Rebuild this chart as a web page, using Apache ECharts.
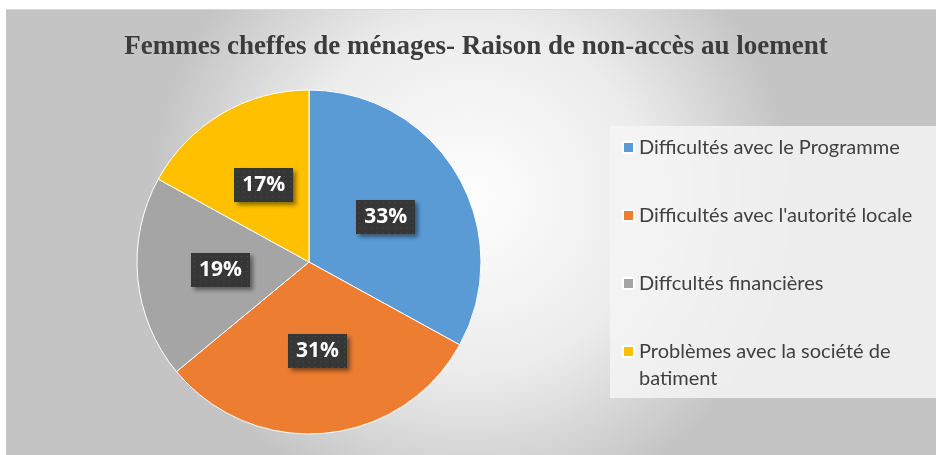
<!DOCTYPE html>
<html>
<head>
	<meta charset="utf-8" />
	<title>Femmes cheffes de ménages</title>
	<script type="text/javascript" src="https://cdn.jsdelivr.net/npm/echarts@6/dist/echarts.min.js"></script>
	<style type="text/css">
		html, body{
			margin: 0;
			padding: 0;
			background: #ffffff;
		}
		#container{
			position: absolute;
			left: 6px;
			top: 9px;
			width: 930px;
			height: 446px;
			border-top: 1px solid #d8d8d8;
		}
	</style>
</head>
<body>
<div id="container"></div>
<script type="text/javascript">
	// données
	var categories = [
		'Difficultés avec le Programme',
		"Difficultés avec l'autorité locale",
		'Diffcultés financières',
		'Problèmes avec la société de batiment'
	];
	var values = [33, 31, 19, 17];
	var colors = ['#5b9bd5', '#ed7d31', '#a5a5a5', '#ffc000'];

	// fond sombre pointillé des étiquettes
	function dotted(w, h){
		var c = document.createElement('canvas');
		c.width = w; c.height = h;
		var g = c.getContext('2d');
		g.fillStyle = '#363636';
		g.fillRect(0, 0, w, h);
		g.fillStyle = '#555555';
		for(var y = 3; y < h; y += 6){
			for(var x = 3; x < w; x += 6){
				g.fillRect(x, y, 1, 1);
			}
		}
		return c;
	}

	var chart = echarts.init(document.getElementById('container'));

	var pieData = categories.map(function(name, i){
		return {name: name, value: values[i], itemStyle: {color: colors[i]}};
	});

	var legendText = {
		fontFamily: 'Lato',
		fontSize: 20,
		lineHeight: 27,
		color: '#404040'
	};

	var options = {
		backgroundColor: {
			type: 'radial', x: 0.5, y: 0.42, r: 0.72,
			colorStops: [
				{offset: 0, color: '#fefefe'},
				{offset: 0.55, color: '#ececec'},
				{offset: 1, color: '#c4c4c4'}
			]
		},
		title: {
			text: 'Femmes cheffes de ménages- Raison de non-accès au loement',
			left: 465,
			textAlign: 'center',
			top: 19,
			textStyle: {
				fontFamily: 'Liberation Serif',
				fontWeight: 'bold',
				fontSize: 27,
				color: '#3c3c3c'
			}
		},
		graphic: [{
			type: 'rect',
			left: 604,
			top: 116,
			shape: {width: 326, height: 272},
			style: {fill: 'rgba(244,244,244,0.85)'},
			z: -1
		}],
		// deux légendes : la dernière entrée est sur deux lignes, carré aligné sur la première
		legend: [{
			orient: 'vertical',
			left: 611,
			top: 119,
			itemWidth: 11,
			itemHeight: 11,
			itemGap: 41,
			icon: 'rect',
			data: categories.slice(0, 3),
			textStyle: legendText
		}, {
			orient: 'vertical',
			left: 611,
			top: 296,
			itemWidth: 11,
			itemHeight: 11,
			icon: 'rect',
			data: categories.slice(3),
			// ligne vide au-dessus pour que le carré tombe sur la première ligne
			formatter: function(name){
				return '\n' + name.replace('société de ', 'société de\n');
			},
			textStyle: legendText
		}],
		series: [{
			type: 'pie',
			center: [303, 252],
			radius: 172,
			startAngle: 90,
			clockwise: true,
			silent: true,
			itemStyle: {borderColor: '#ffffff', borderWidth: 1},
			label: {
				show: true,
				position: 'inside',
				formatter: '{c}%',
				fontFamily: 'Open Sans',
				fontWeight: 'bold',
				fontSize: 21,
				color: '#ffffff',
				backgroundColor: {image: dotted(60, 40)},
				padding: [7, 8, 6, 8],
				shadowColor: 'rgba(0,0,0,0.45)',
				shadowBlur: 4,
				shadowOffsetX: 3,
				shadowOffsetY: 3
			},
			labelLine: {show: false},
			data: pieData
		}]
	};

	chart.setOption(options);
</script>
</body>
</html>
